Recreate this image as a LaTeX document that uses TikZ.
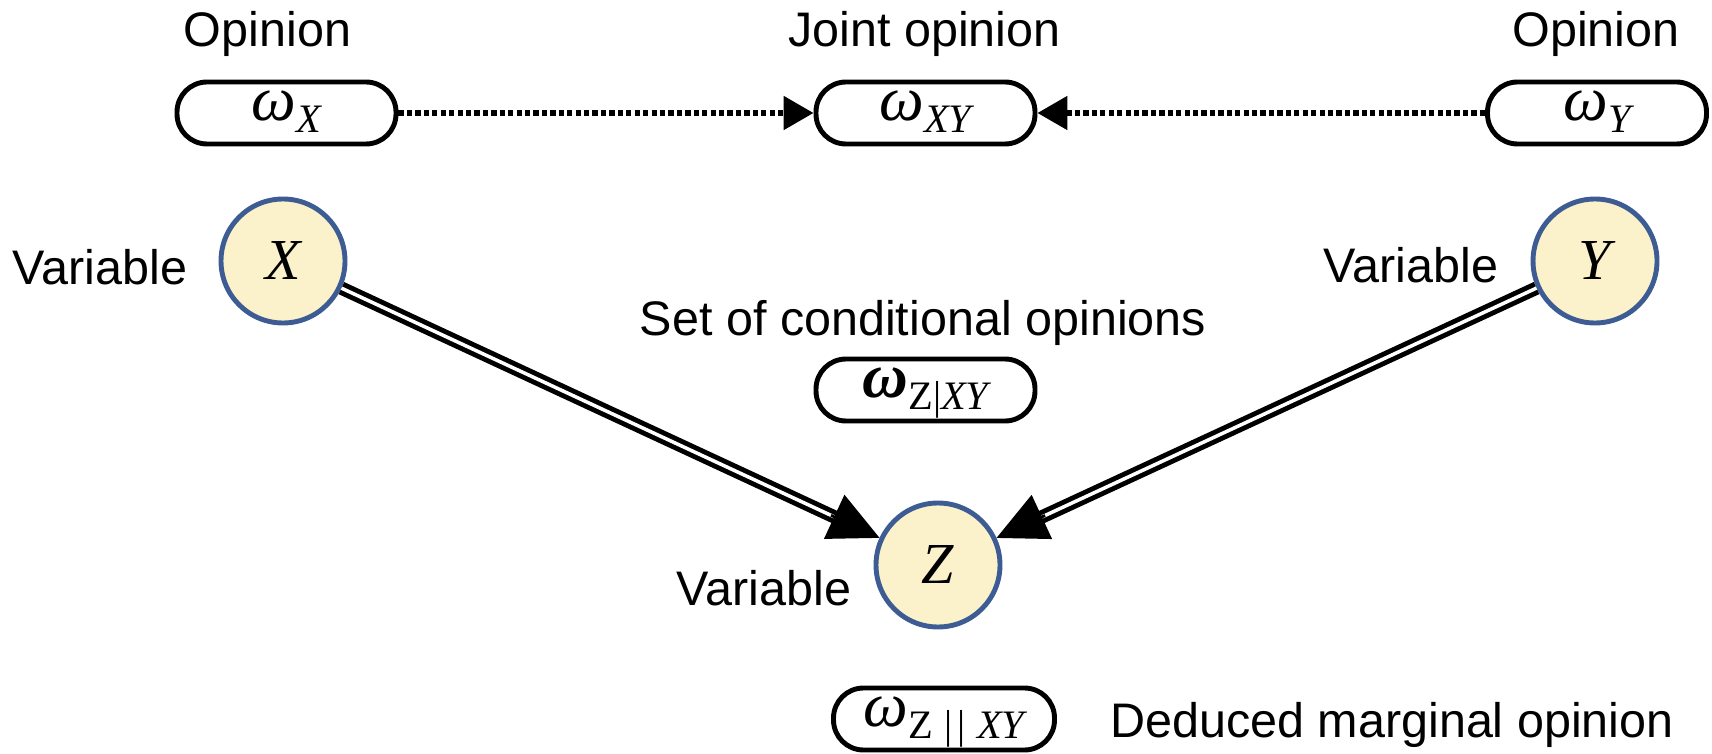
\documentclass[tikz,border=0pt]{standalone}
\usepackage{fontspec}
\setmainfont{Liberation Sans}
\newfontfamily\serif{Liberation Serif}
\usetikzlibrary{arrows.meta,calc}
\definecolor{varfill}{RGB}{251,242,203}
\definecolor{varline}{RGB}{61,92,148}
\newcommand{\om}[2]{{\fontsize{18}{20}\selectfont\serif\itshape #1}\raisebox{-3.5pt}{\fontsize{11.5}{13}\selectfont\serif #2}}
\begin{document}
\begin{tikzpicture}[
    opbox/.style={draw, line width=1.4pt, rounded corners=0.3cm, minimum width=2.19cm,
        minimum height=0.62cm, inner sep=0pt, text height=8.3pt, text depth=4pt},
    varnode/.style={circle, draw=varline, fill=varfill, line width=1.4pt, minimum size=1.24cm,
        inner sep=0pt, font=\fontsize{16.5}{18}\selectfont\serif\itshape},
    txt/.style={font=\fontsize{13.8}{16}\selectfont, anchor=base, inner sep=0pt},
    dotarrow/.style={line width=1.5pt, dash pattern=on 1.5pt off 0.9pt,
        -{Triangle[length=0.3cm,width=0.33cm]}},
    dline/.style={double, double distance=1pt, line width=1.4pt},
    headline/.style={line width=0.8pt, -{Triangle[length=0.5cm,width=0.48cm]}}]
        \useasboundingbox (0,0) rectangle (17.12,7.53);

        \node[txt] (opX) at (2.675, 7.06) {Opinion};
        \node[txt] (joint) at (9.245, 7.06) {Joint opinion};
        \node[txt] (opY) at (15.96, 7.06) {Opinion};

        \node[opbox] (oX) at (2.865, 6.40) {\om{ω}{\itshape X}};
        \node[opbox] (oXY) at (9.255, 6.40) {\om{ω}{\itshape XY}};
        \node[opbox] (oY) at (15.97, 6.40) {\om{ω}{\itshape Y}};

        \node[varnode] (X) at (2.83, 4.92) {X};
        \node[varnode] (Y) at (15.95, 4.92) {Y};
        \node[varnode] (Z) at (9.38, 1.88) {Z};

        \node[txt] (varX) at (1.00, 4.68) {Variable};
        \node[txt] (varY) at (14.11, 4.70) {Variable};
        \node[txt] (varZ) at (7.64, 1.48) {Variable};

        \node[txt] (condtxt) at (9.23, 4.18) {Set of conditional opinions};
        \node[opbox] (oZXY) at (9.255, 3.63) {\om{\bfseries ω}{Z|\itshape XY}};

        \node[opbox, minimum width=2.21cm] (oZ) at (9.44, 0.34) {\om{ω}{Z\;|\kern1.5pt|\;\itshape XY}};
        \node[txt] (margtxt) at (13.92, 0.16) {Deduced marginal opinion};

        \draw[dotarrow] (oX) -- (oXY);
        \draw[dotarrow] (oY) -- (oXY);

        \draw[dline] (X) -- ($(Z)!1.1cm!(X)$);
        \draw[headline] ($(Z)!1.18cm!(X)$) -- (Z);
        \draw[dline] (Y) -- ($(Z)!1.1cm!(Y)$);
        \draw[headline] ($(Z)!1.18cm!(Y)$) -- (Z);

    \end{tikzpicture}
\end{document}
